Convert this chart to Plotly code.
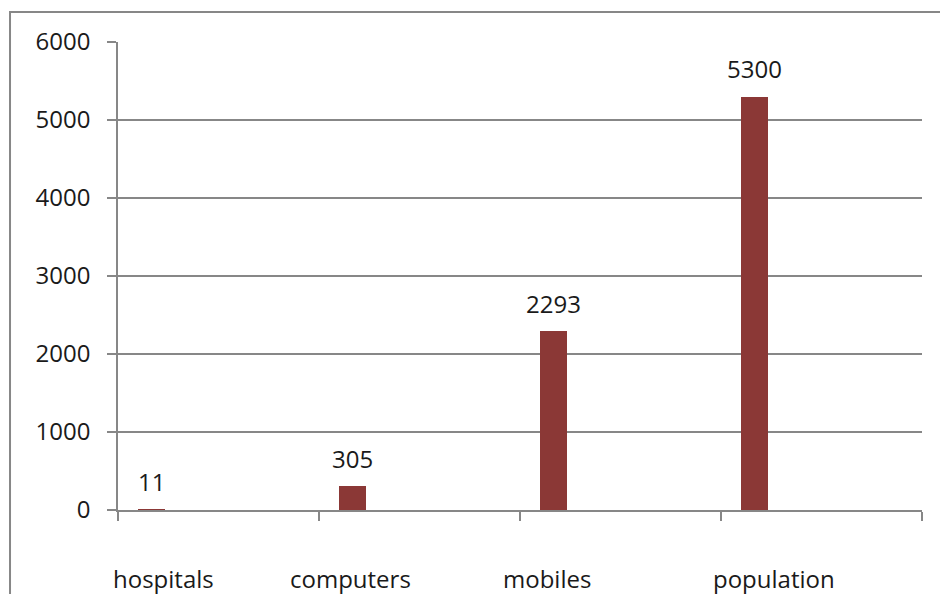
import plotly.graph_objects as go
import numpy as np

categories = ["hospitals", "computers", "mobiles", "population"]
values = [11, 305, 2293, 5300]
y_ticks = [0, 1000, 2000, 3000, 4000, 5000, 6000]

BAR_COLOR = "#8B3836"
AXIS_COLOR = "#878787"
TEXT_COLOR = "#1a1a1a"
FONT = "Open Sans"
FONT_SIZE = 24

# each category occupies one unit slot; bar sits left of the slot centre
slot_index = np.arange(len(categories))
bar_x = slot_index - 1 / 3
bar_width = 0.134

fig = go.Figure()
fig.add_trace(go.Bar(
    x=bar_x,
    y=values,
    width=bar_width,
    marker=dict(color=BAR_COLOR, line=dict(width=0)),
    hoverinfo="x+y",
    showlegend=False,
))

annotations = []
# value labels above each bar
for xv, v in zip(bar_x, values):
    annotations.append(dict(
        x=xv, y=v, xref="x", yref="y", text=str(v), showarrow=False,
        yanchor="middle", xanchor="center", yshift=28,
        font=dict(family=FONT, size=FONT_SIZE, color=TEXT_COLOR),
    ))

# category names well below the axis
label_x = [-0.276, 0.659, 1.634, 2.764]
for xv, name in zip(label_x, categories):
    annotations.append(dict(
        x=xv, y=-0.1465, xref="x", yref="paper", text=name, showarrow=False,
        yanchor="middle", xanchor="center",
        font=dict(family=FONT, size=FONT_SIZE, color=TEXT_COLOR),
    ))

# outer chart frame (left, top edges visible)
frame = dict(
    type="rect", xref="paper", yref="paper",
    x0=-0.1343, x1=1.04, y0=-0.25, y1=1.0642,
    line=dict(color=AXIS_COLOR, width=2), fillcolor="rgba(0,0,0,0)",
    layer="below",
)

fig.update_layout(
    width=940, height=594,
    margin=dict(l=118, r=18, t=42, b=84),
    paper_bgcolor="white", plot_bgcolor="white",
    font=dict(family=FONT, size=FONT_SIZE, color=TEXT_COLOR),
    annotations=annotations,
    shapes=[frame],
    bargap=0,
    xaxis=dict(
        range=[-0.5, 3.5],
        tickvals=list(np.arange(len(categories) + 1) - 0.5),
        showticklabels=False,
        ticks="outside", ticklen=9, tickcolor=AXIS_COLOR, tickwidth=1.5,
        showgrid=False, zeroline=False,
        showline=True, linecolor=AXIS_COLOR, linewidth=1.5,
        fixedrange=True,
    ),
    yaxis=dict(
        range=[0, 6000],
        tickvals=y_ticks,
        ticktext=[str(t) for t in y_ticks],
        ticks="outside", ticklen=9, tickcolor=AXIS_COLOR, tickwidth=1.5,
        ticklabelstandoff=12,
        showgrid=True, gridcolor=AXIS_COLOR, gridwidth=1.5,
        zeroline=False,
        showline=True, linecolor=AXIS_COLOR, linewidth=1.5,
        tickfont=dict(family=FONT, size=FONT_SIZE, color=TEXT_COLOR),
        fixedrange=True,
    ),
)

fig.write_html("out.html")
